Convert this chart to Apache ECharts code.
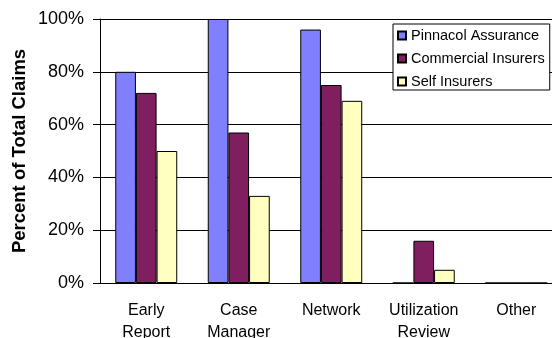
<!DOCTYPE html>
<html>
<head>
<meta charset="utf-8">
<script src="https://cdn.jsdelivr.net/npm/echarts@6/dist/echarts.min.js"></script>
<style>html,body{margin:0;padding:0;background:#fff}#c{width:552px;height:338px}</style>
</head>
<body>
<div id="c"></div>
<script>
const categories = ['Early\nReport', 'Case\nManager', 'Network', 'Utilization\nReview', 'Other'];
const pinnacol = [80, 100, 96, 0, 0];
const commercial = [72, 57, 75, 16, 0];
const selfIns = [50, 33, 69, 5, 0];
const seriesNames = ['Pinnacol Assurance', 'Commercial Insurers', 'Self Insurers'];
const yTicks = [0, 20, 40, 60, 80, 100];

const FONT = 'Liberation Sans, Arial, sans-serif';
const chart = echarts.init(document.getElementById('c'), null, {renderer: 'canvas'});
const mk = (name, data, color) => ({
  name, type: 'bar', data,
  barGap: '0%', barCategoryGap: '33%',
  itemStyle: {color, borderColor: '#000', borderWidth: 1},
  emphasis: {disabled: true}
});
chart.setOption({
  animation: false,
  textStyle: {fontFamily: FONT, color: '#000'},
  grid: {left: 100, top: 19, bottom: 55, right: -10.5, outerBoundsMode: 'none', containLabel: false},
  legend: {
    orient: 'vertical', left: 393, top: 24,
    backgroundColor: '#fff', borderColor: '#000', borderWidth: 1,
    padding: [4, 5, 1, 4], itemGap: 8, itemWidth: 8, itemHeight: 8, itemTextGap: 6,
    icon: 'rect',
    textStyle: {fontFamily: FONT, fontSize: 14.5, color: '#000', lineHeight: 14},
    data: seriesNames
  },
  xAxis: {
    type: 'category', data: categories,
    axisLine: {lineStyle: {color: '#000', width: 1}},
    axisTick: {inside: true, length: 5, lineStyle: {color: '#000'}},
    axisLabel: {fontFamily: FONT, fontSize: 16, color: '#000', lineHeight: 22, margin: 17, interval: 0}
  },
  yAxis: {
    type: 'value', min: yTicks[0], max: yTicks[yTicks.length - 1], interval: 20,
    name: 'Percent of Total Claims', nameLocation: 'middle', nameGap: 71, nameMoveOverlap: false,
    nameTextStyle: {fontFamily: FONT, fontSize: 18.5, fontWeight: 'bold', color: '#000'},
    axisLine: {show: true, lineStyle: {color: '#000', width: 1}},
    axisTick: {show: true, length: 7, lineStyle: {color: '#000'}},
    axisLabel: {fontFamily: FONT, fontSize: 18, color: '#000', margin: 16, formatter: '{value}%'},
    splitLine: {lineStyle: {color: '#000', width: 1}}
  },
  series: [
    mk(seriesNames[0], pinnacol, '#8080FF'),
    mk(seriesNames[1], commercial, '#7F1F5F'),
    mk(seriesNames[2], selfIns, '#FFFFC0')
  ]
});
</script>
</body>
</html>
